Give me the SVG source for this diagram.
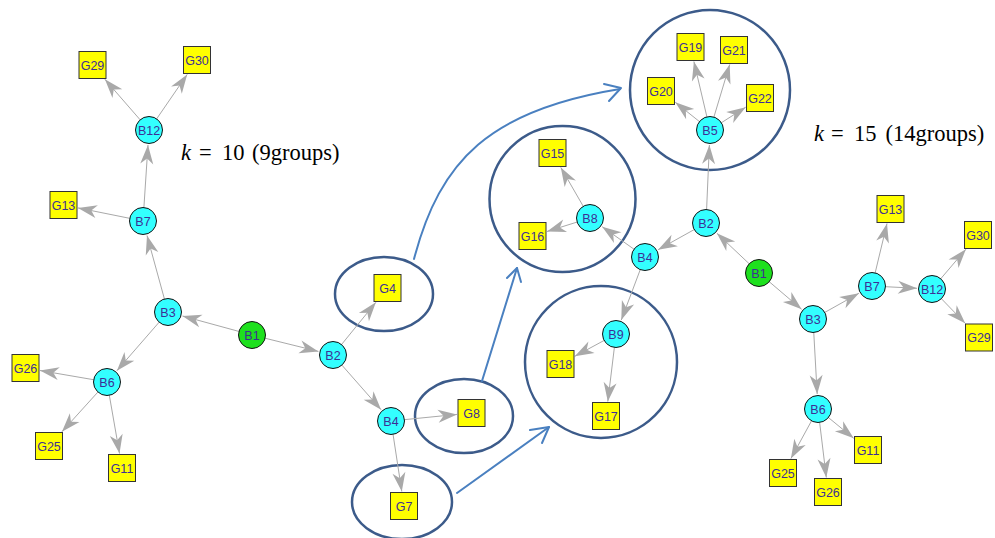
<svg xmlns="http://www.w3.org/2000/svg" width="995" height="538" viewBox="0 0 995 538">
  <defs>
    <marker id="ah" markerUnits="userSpaceOnUse" markerWidth="21" markerHeight="16" viewBox="-20 -8 21 16" refX="0" refY="0" orient="auto">
      <path d="M0,0 L-19,-6.5 L-13.5,0 L-19,6.5 Z" fill="#a9a9a9"/>
    </marker>
    <style>
      .grp { fill: none; stroke: #3c5b8a; stroke-width: 2.5; }
      .link { fill: none; stroke: #4a80c0; stroke-width: 2; stroke-linecap: round; stroke-linejoin: round; }
      .e { stroke: #a9a9a9; stroke-width: 1; marker-end: url(#ah); }
      .b { fill: #33ffff; stroke: #111; stroke-width: 1; }
      .root { fill: #1ee01e; stroke: #111; stroke-width: 1; }
      .g { fill: #ffff00; stroke: #333; stroke-width: 1; }
      .lbl { font-family: "Liberation Sans", Arial, sans-serif; font-size: 12.5px; fill: #3d2f95; text-anchor: middle; }
      .ttl { font-family: "Liberation Serif", "Times New Roman", serif; font-size: 22.5px; fill: #000; }
    </style>
  </defs>
  <rect width="995" height="538" fill="#ffffff"/>

  <!-- group outlines -->
  <g id="groups">
    <ellipse class="grp" cx="384" cy="294" rx="49" ry="37"/>
    <ellipse class="grp" cx="464" cy="416" rx="49" ry="37"/>
    <ellipse class="grp" cx="402" cy="502" rx="50" ry="37"/>
    <circle class="grp" cx="710" cy="90" r="80"/>
    <circle class="grp" cx="562.5" cy="199" r="73"/>
    <circle class="grp" cx="601" cy="362" r="76"/>
  </g>

  <!-- mapping arrows between the two layouts -->
  <g id="mapping">
    <path class="link" d="M414,259 C440,160 490,110 620,89"/>
    <polyline class="link" points="604,84 621,88 609,101"/>
    <path class="link" d="M482,381 L517,268"/>
    <polyline class="link" points="507,278 517,268 521,282"/>
    <path class="link" d="M457,493 L549,427"/>
    <polyline class="link" points="530,430 549,427 542,443"/>
  </g>

  <!-- edges -->
  <g id="edges">
    <line class="e" x1="252" y1="335" x2="182.5" y2="316"/>
    <line class="e" x1="252" y1="335" x2="318.4" y2="351.4"/>
    <line class="e" x1="168" y1="312" x2="147" y2="235.5"/>
    <line class="e" x1="168" y1="312" x2="116.9" y2="370.7"/>
    <line class="e" x1="143" y1="221" x2="148" y2="145"/>
    <line class="e" x1="143" y1="221" x2="78" y2="207.9"/>
    <line class="e" x1="149" y1="130" x2="104.9" y2="79.3"/>
    <line class="e" x1="149" y1="130" x2="187.2" y2="74.4"/>
    <line class="e" x1="107" y1="382" x2="40" y2="370.5"/>
    <line class="e" x1="107" y1="382" x2="61.9" y2="431.8"/>
    <line class="e" x1="107" y1="382" x2="119.5" y2="453.5"/>
    <line class="e" x1="333" y1="355" x2="375.9" y2="302.3"/>
    <line class="e" x1="333" y1="355" x2="381.1" y2="409.7"/>
    <line class="e" x1="391" y1="421" x2="457" y2="414.4"/>
    <line class="e" x1="391" y1="421" x2="401.8" y2="491.5"/>

    <line class="e" x1="759" y1="273" x2="716.9" y2="233.3"/>
    <line class="e" x1="759" y1="273" x2="801.6" y2="309.3"/>
    <line class="e" x1="706" y1="223" x2="709.4" y2="145"/>
    <line class="e" x1="706" y1="223" x2="658.1" y2="249.7"/>
    <line class="e" x1="710" y1="130" x2="693.9" y2="61.5"/>
    <line class="e" x1="710" y1="130" x2="729.7" y2="64.5"/>
    <line class="e" x1="710" y1="130" x2="675.3" y2="102.3"/>
    <line class="e" x1="710" y1="130" x2="745.7" y2="107.2"/>
    <line class="e" x1="645" y1="257" x2="602.2" y2="226.7"/>
    <line class="e" x1="645" y1="257" x2="621.3" y2="320"/>
    <line class="e" x1="590" y1="218" x2="560.8" y2="167.4"/>
    <line class="e" x1="590" y1="218" x2="547" y2="231.5"/>
    <line class="e" x1="616" y1="334" x2="574.8" y2="356.3"/>
    <line class="e" x1="616" y1="334" x2="607.8" y2="401.5"/>
    <line class="e" x1="813" y1="319" x2="858.9" y2="293.3"/>
    <line class="e" x1="813" y1="319" x2="817.2" y2="394"/>
    <line class="e" x1="872" y1="286" x2="887" y2="223.5"/>
    <line class="e" x1="872" y1="286" x2="917" y2="288.3"/>
    <line class="e" x1="932" y1="289" x2="965.9" y2="249.2"/>
    <line class="e" x1="932" y1="289" x2="965.2" y2="323.3"/>
    <line class="e" x1="818" y1="409" x2="853.7" y2="438.3"/>
    <line class="e" x1="818" y1="409" x2="790.9" y2="458.6"/>
    <line class="e" x1="818" y1="409" x2="826.3" y2="477.5"/>
  </g>

  <!-- left layout (k = 10) -->
  <g id="L-B1"><circle class="root" cx="252" cy="335" r="13.5"/><text class="lbl" x="252" y="339.5">B1</text></g>
  <g id="L-B2"><circle class="b" cx="333" cy="355" r="13.5"/><text class="lbl" x="333" y="359.5">B2</text></g>
  <g id="L-B3"><circle class="b" cx="168" cy="312" r="13.5"/><text class="lbl" x="168" y="316.5">B3</text></g>
  <g id="L-B4"><circle class="b" cx="391" cy="421" r="13.5"/><text class="lbl" x="391" y="425.5">B4</text></g>
  <g id="L-B6"><circle class="b" cx="107" cy="382" r="13.5"/><text class="lbl" x="107" y="386.5">B6</text></g>
  <g id="L-B7"><circle class="b" cx="143" cy="221" r="13.5"/><text class="lbl" x="143" y="225.5">B7</text></g>
  <g id="L-B12"><circle class="b" cx="149" cy="130" r="13.5"/><text class="lbl" x="149" y="134.5">B12</text></g>
  <g id="L-G29"><rect class="g" x="79" y="51.5" width="27" height="27"/><text class="lbl" x="92.5" y="69.5">G29</text></g>
  <g id="L-G30"><rect class="g" x="183.5" y="46.5" width="27" height="27"/><text class="lbl" x="197" y="64.5">G30</text></g>
  <g id="L-G13"><rect class="g" x="50" y="191.5" width="27" height="27"/><text class="lbl" x="63.5" y="209.5">G13</text></g>
  <g id="L-G26"><rect class="g" x="12" y="354.5" width="27" height="27"/><text class="lbl" x="25.5" y="372.5">G26</text></g>
  <g id="L-G25"><rect class="g" x="35.5" y="432.5" width="27" height="27"/><text class="lbl" x="49" y="450.5">G25</text></g>
  <g id="L-G11"><rect class="g" x="108.5" y="454.5" width="27" height="27"/><text class="lbl" x="122" y="472.5">G11</text></g>
  <g id="L-G4"><rect class="g" x="374" y="274.5" width="27" height="27"/><text class="lbl" x="387.5" y="292.5">G4</text></g>
  <g id="L-G8"><rect class="g" x="458" y="399.5" width="27" height="27"/><text class="lbl" x="471.5" y="417.5">G8</text></g>
  <g id="L-G7"><rect class="g" x="390.5" y="492.5" width="27" height="27"/><text class="lbl" x="404" y="510.5">G7</text></g>

  <!-- right layout (k = 15) -->
  <g id="R-B1"><circle class="root" cx="759" cy="273" r="13.5"/><text class="lbl" x="759" y="277.5">B1</text></g>
  <g id="R-B2"><circle class="b" cx="706" cy="223" r="13.5"/><text class="lbl" x="706" y="227.5">B2</text></g>
  <g id="R-B3"><circle class="b" cx="813" cy="319" r="13.5"/><text class="lbl" x="813" y="323.5">B3</text></g>
  <g id="R-B4"><circle class="b" cx="645" cy="257" r="13.5"/><text class="lbl" x="645" y="261.5">B4</text></g>
  <g id="R-B5"><circle class="b" cx="710" cy="130" r="13.5"/><text class="lbl" x="710" y="134.5">B5</text></g>
  <g id="R-B6"><circle class="b" cx="818" cy="409" r="13.5"/><text class="lbl" x="818" y="413.5">B6</text></g>
  <g id="R-B7"><circle class="b" cx="872" cy="286" r="13.5"/><text class="lbl" x="872" y="290.5">B7</text></g>
  <g id="R-B8"><circle class="b" cx="590" cy="218" r="13.5"/><text class="lbl" x="590" y="222.5">B8</text></g>
  <g id="R-B9"><circle class="b" cx="616" cy="334" r="13.5"/><text class="lbl" x="616" y="338.5">B9</text></g>
  <g id="R-B12"><circle class="b" cx="932" cy="289" r="13.5"/><text class="lbl" x="932" y="293.5">B12</text></g>
  <g id="R-G19"><rect class="g" x="677" y="33.5" width="27" height="27"/><text class="lbl" x="690.5" y="51.5">G19</text></g>
  <g id="R-G21"><rect class="g" x="720.5" y="36.5" width="27" height="27"/><text class="lbl" x="734" y="54.5">G21</text></g>
  <g id="R-G20"><rect class="g" x="647.5" y="77.5" width="27" height="27"/><text class="lbl" x="661" y="95.5">G20</text></g>
  <g id="R-G22"><rect class="g" x="746.5" y="84.5" width="27" height="27"/><text class="lbl" x="760" y="102.5">G22</text></g>
  <g id="R-G15"><rect class="g" x="539" y="139.5" width="27" height="27"/><text class="lbl" x="552.5" y="157.5">G15</text></g>
  <g id="R-G16"><rect class="g" x="519" y="222.5" width="27" height="27"/><text class="lbl" x="532.5" y="240.5">G16</text></g>
  <g id="R-G18"><rect class="g" x="547" y="350.5" width="27" height="27"/><text class="lbl" x="560.5" y="368.5">G18</text></g>
  <g id="R-G17"><rect class="g" x="592.5" y="402.5" width="27" height="27"/><text class="lbl" x="606" y="420.5">G17</text></g>
  <g id="R-G13"><rect class="g" x="877" y="195.5" width="27" height="27"/><text class="lbl" x="890.5" y="213.5">G13</text></g>
  <g id="R-G30"><rect class="g" x="964.5" y="221.5" width="27" height="27"/><text class="lbl" x="978" y="239.5">G30</text></g>
  <g id="R-G29"><rect class="g" x="965.5" y="324" width="27" height="27"/><text class="lbl" x="979" y="342">G29</text></g>
  <g id="R-G11"><rect class="g" x="854.5" y="436.5" width="27" height="27"/><text class="lbl" x="868" y="454.5">G11</text></g>
  <g id="R-G25"><rect class="g" x="769.5" y="459.5" width="27" height="27"/><text class="lbl" x="783" y="477.5">G25</text></g>
  <g id="R-G26"><rect class="g" x="814.5" y="478.5" width="27" height="27"/><text class="lbl" x="828" y="496.5">G26</text></g>

  <!-- captions -->
  <text class="ttl" y="160"><tspan x="181" font-style="italic">k</tspan><tspan x="199">=</tspan><tspan x="222">10</tspan><tspan x="252">(9groups)</tspan></text>
  <text class="ttl" y="141"><tspan x="814" font-style="italic">k</tspan><tspan x="831">=</tspan><tspan x="854">15</tspan><tspan x="885.5">(14groups)</tspan></text>
</svg>
